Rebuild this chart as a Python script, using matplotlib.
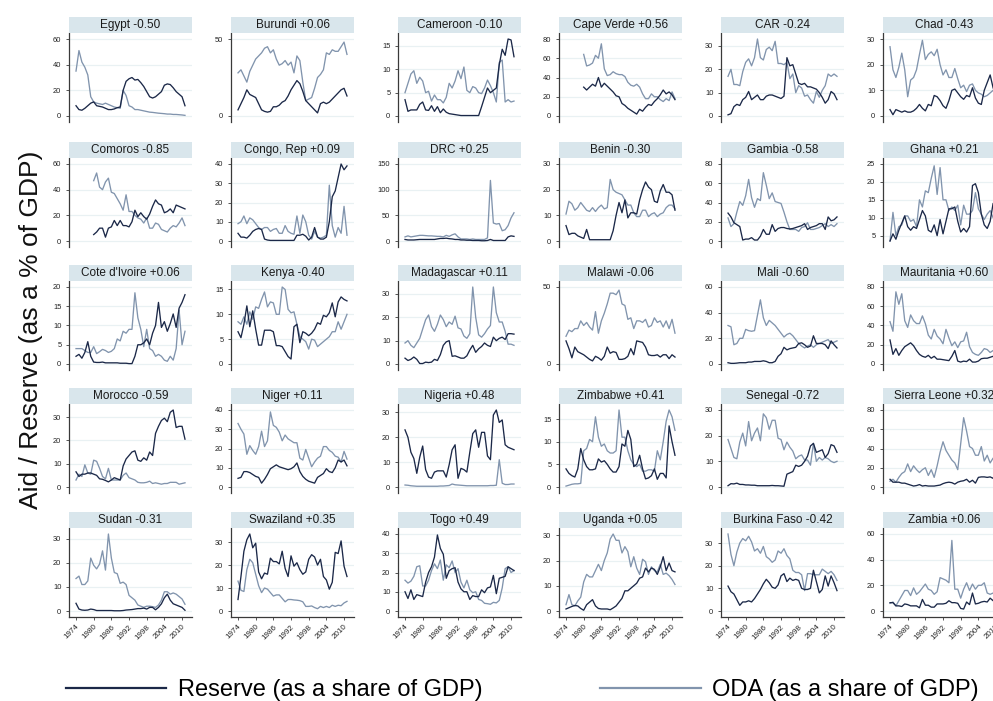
import numpy as np
import matplotlib
matplotlib.use("Agg")
import matplotlib.pyplot as plt
from matplotlib.patches import Rectangle
from matplotlib.lines import Line2D

plt.rcParams['font.family'] = ['Liberation Sans', 'DejaVu Sans']

years = list(range(1974, 2012))
N = np.nan

egypt_reserve = [8,5,4.5,6,8,10,11,8,7.5,7, 6,5,5,5.5,6.5,7,20,27,29,30, 28,28.5,26,23,19,15,14,15,17,19, 24,25,24.5,22,19,17,15,8]
egypt_oda = [35,51,42,38,32,15,11,10,9.5,9, 10,9,8,7,6.5,6,20,16,8,7, 5,5,4.5,4,3.5,3,2.8,2.5,2.2,2, 1.8,1.5,1.5,1.2,1.2,1,0.8,0.5]
burundi_reserve = [4,8,12,17,14,13,12,8,4,3, 2.5,3,6,6,7,9,10,13,17,20, 23,21,16,10,8,6,4,2,8,9, 8,9,11,13,15,17,18,13]
burundi_oda = [28,30,26,22,29,33,37,39,41,44, 45,41,43,37,33,34,36,33,35,28, 39,36,22,10,11,12,18,25,27,30, 41,40,43,42,42,45,48,40]
cameroon_reserve = [3.5,1,1.3,1.3,1.3,2.5,3,1.3,1.2,2.2, 1,2,0.7,1.5,0.8,0.5,0.4,0.3,0.2,0.1, 0.1,0.1,0.1,0.1,0.1,0.1,2,4,6,5, 5.5,6,11,14.3,13,16.5,16.3,12.7]
cameroon_oda = [5,7,9,9.7,7,8.3,7.5,5,5.3,3.2, 4.5,3.5,3.5,2.8,4,7,6,7.5,9.7,8, 10.5,5.5,5,6.3,6,5,4.8,6,7.7,6.5, 5,3,11.5,12,3,3.5,3,3.2]
capeverde_reserve = [N,N,N,N,N,N, 30,27,30,33,31,40,30,34,31,28, 25,21,20,13,11,8,6,4,2,7, 5,9,12,11,15,18,22,27,23,25, 22,17]
capeverde_oda = [N,N,N,N,N,N, 64,52,53,55,63,60,75,49,42,43, 46,44,43,43,41,35,32,31,33,30, 23,18,18,23,20,20,17,15,18,16, 25,18]
car_reserve = [0.5,1,4,5,4.5,7,8,10.5,7,8, 9,7,7,8.5,9,9,8.5,8,7.5,8.5, 25,21.5,22,18,14,13.5,14,12.5,12.5,12, 11.5,10,8,5.5,7,10.5,9.5,7]
car_oda = [17,20,13.5,13.5,13,19,23,24.5,21.5,25, 33,25,24,28.5,29.5,28,32,22.5,22.5,22, 23,16,18,10,13,12,8.5,9,7,5.5, 10.5,8,11,13,18,17,18,17]
chad_reserve = [2.5,0.5,2.5,2,1.5,2,1.5,1.5,2,3, 4.5,3,2,4.5,4,8,7.5,6,4,3, 6,10,10.5,9,7.5,6.5,8,7.5,11,7, 5,4.5,10,13,16,11,8,9]
chad_oda = [27,18,15,19,24.5,18,7.5,14,15,18, 24,29.5,22,24,25,23.5,26,20,16,18, 15,15,18.5,14.5,11,12,9.5,12,12.5,10, 9,8.5,7.5,8,9,10,9,10]
comoros_reserve = [N,N,N,N,N,N, 5,7,10,10,3,10,11,16,12,16, 12,12,11,15,24,19,22,19,17,21, 27,32,29,28,22,23,25,22,28,27, 26,25]
comoros_oda = [N,N,N,N,N,N, 47,53,42,40,46,49,38,37,33,29, 24,36,23,23,20,18,17,14,18,10, 10,14,13,9,8,7,10,12,11,14, 18,12]
congo_reserve = [4,2,2,1.5,3,5,6,6.5,6,1, 0.5,0.3,0.3,0.3,0.3,0.3,0.3,0.3,0.3,0.3, 3,3,3.5,2.5,0.5,2,7,2,1,1, 2,10,23,26,33,40,37,39]
congo_oda = [9,10,13,9,12,11,9,7,6,7, 7,5,6,6.5,4,4,8,5,4,3.5, 13,4,13.5,10,3,1,5,2,1.5,2, 3,29,8,2,7,4,18,3]
drc_reserve = [3,2,2,2,2.5,3,3,3,3,3, 3,4,5,5,5.5,4.5,4,3,3,2, 2,1.5,1.5,1,1,1,0.5,0.5,1,3, 1,1,1,1,1,8,10,9]
drc_oda = [8,10,8,9,10,11,11,10.5,10,10, 9.5,9,9,8,11,9,12,14,8,4, 4,4,3,4,3,3,3,3,6,118, 35,33,34,20,22,30,45,55]
benin_reserve = [6,2.5,3,3,2,1.5,1,4.5,0.5,0.5, 0.5,0.5,0.5,0.5,0.5,0.5,4,10,15,11, 16,9,11,11,10.5,16,20,23,21,20, 15.5,15,19.5,22,19,19,18,12]
benin_oda = [10.5,15.5,14.5,12,13,15,13.5,12,11.5,13, 11.5,13,14,12.5,13,24,20,19,18.5,18, 16,14,14,11,9.5,9.5,12,12,9.5,10.5, 11,9.5,10.5,11,13,14,14,12.5]
gambia_reserve = [29,25,19,17,15,1,2,2,3.5,1, 1,5,12,7,7,17,10,13,14,14, 13,12.5,13,14,15,16,18,12,14,15, 16,18,18,12,25,21,22,25]
gambia_oda = [24,15,18,30,41,37,47,64,45,35, 44,42,71,58,44,50,41,40,39,30, 20,12,12,12,10,14,15,19,12,12, 13,14,16,18,15,17,15,18]
ghana_reserve = [3.5,5.5,4,6.5,8.5,10.5,7.5,6.5,7.5,7, 9.5,12,10.5,6.5,6,8,5,9.5,5.5,9, 12.5,12.5,13,9,6,7,6,7.5,19,19.5, 17,11,8,7,9,14,11,13]
ghana_oda = [3.5,11.5,5,7.5,8,10.5,10.5,9,9.5,7.5, 15,13,17.5,17,21,24.5,16.5,24,15,15, 12,13,12,13.5,8,13.5,11,11,12,17, 12.5,11,9.5,11,12,10,9,11]
cotedivoire_reserve = [2,2.5,1.5,3,5.8,2,0.5,0.4,0.4,0.5, 0.3,0.3,0.3,0.3,0.3,0.2,0.2,0.2,0.1,0.1, 2,5,5,5.5,6.5,5,8,10,16,9.5, 11,8.5,10.5,13,9.5,14.5,16,18]
cotedivoire_oda = [4,4,4,3.5,3,3,4.5,2.7,3.2,3.8, 3.5,3,3.3,4,6.5,6,8.5,8,9,9, 18.5,12,9,4.5,9,4,3.5,2,2.5,2, 1,0.7,2,1,4,14,5,8.5]
kenya_reserve = [6.5,5.3,8,11.7,7.5,10.7,7,3.8,3.8,6.8, 6.8,6.8,6.5,3.7,3.7,3.5,2.5,1.5,1,7.5, 8,4.3,6.5,6.2,5.7,6.2,7,8.3,8,9.8, 9.5,10.3,12.3,9.5,12.5,13.5,13,12.7]
kenya_oda = [8.5,8,9.5,8,10.5,9,11.5,11.2,13,14.5, 11.5,12.5,12.3,10,10,15.5,15,11,10.3,10.5, 8,5.5,5,4.5,3,5,4.8,3.5,4,4.5, 5,5.5,6.5,6.5,8.5,7,8.5,10]
madagascar_reserve = [2.5,1.5,2,3,2,0.2,0.2,0.8,0.6,0.8, 2,1.5,4,8,9.5,10,3.3,3.5,3,2.5, 2.5,3.5,6,8,5,6.5,7.5,9,8,7.5, 11.5,10,11,11.5,10.5,13,13,12.8]
madagascar_oda = [9,10,8,7,9,11,15,19,21,16, 14,17,21,19,16,18,17,20.5,15.5,15, 12,11,13,33,20,12.5,11.5,13,15,16.5, 33,22,18,18,14,8.5,8.5,8]
malawi_reserve = [15,10,4,11,8,7,6,4.5,3,2, 5,4,2.5,5,11,7,8,7.5,3,3, 3.5,5,10,6,15,14.5,14,11,6,5.5, 5.5,6,4.5,6,6,3.5,6,4.5]
malawi_oda = [18,22,21,23,23,28,25,27,24,22, 34,20,28,33,39,46,46,45,48,39, 38,29,30,23,28,28,27,29,24,25, 30,27,28,24,28,23,29,20]
mali_reserve = [1,0.5,0.5,0.7,1,1,1,1.5,1.5,2, 2,2,2.5,2,1,1,2,6,8,13, 11,12,12.5,13,16,16.5,15,13,14,22, 16,16,16,15,12,18,15,12.5]
mali_oda = [30,29,15,16,20,20,27,26,25.5,26, 38,50,36,30,34,32,30,27,24,21, 23,24,22,19,16,14,12.5,14,15,13, 15,16,17,18,19,16,17,18]
mauritania_reserve = [25,10,16,9,14,18,20,22,19,14, 10,8,7,9,6,8,5,5,4.5,4, 3.5,8,14,3,2,3,2.5,5,2,2, 3,5.5,6,6,7,8,7,8]
mauritania_oda = [44,34,75,62,73,45,38,51,45,42, 42,50,42,30,26,36,29,26,21,36, 27,19,23,17,23,24,33,18,12,10, 9,12,16,15,12,14,15,13]
morocco_reserve = [6.5,4.5,5.5,5.5,6,6,5.5,5,3.5,3.3, 2.8,2.2,3,4,3.5,3,9,12,13.5,15, 15.5,11.5,11,12.5,11.5,15,13.5,23,26,28.5, 29.5,28,32,33,25.5,26,26,20.5]
morocco_oda = [3,5.5,4.5,9.5,6,5.5,11.5,11,8,4.5, 3.5,8,3,3,3,3,5,6,4,3.5, 3,2,1.8,1.8,2,2.5,1.5,1.8,1.5,1.2, 1.5,1.5,2,2,2,1.2,1.5,1.8]
niger_reserve = [4.5,5,8,8,7.5,6.5,5.5,5,2,4, 6.5,9.5,10.5,11.5,10.5,10,9.5,9,9.5,10.5, 12.5,8,5.5,4,3,2.5,2,5,6,7, 9.5,8,7.5,10,14,13,14,11]
niger_oda = [33,30,27.5,17,21.5,19,17,21,29,21, 24,39,32,31,28.5,24,27,25,24,23, 23,15,14,19.5,15,10.5,13,15,16,21, 21,19,18,16,15.5,13,18.5,14.5]
nigeria_reserve = [23,20,14,11.5,5.5,12,16.5,7,4,3.5, 6,6.5,6.5,6.5,4,9,15,17,3.5,7.5, 7,6,14,21.5,23,16,22,22,12.5,11, 29,31,26,27,17,16,15.5,15]
nigeria_oda = [0.8,0.7,0.5,0.4,0.3,0.3,0.3,0.3,0.3,0.3, 0.3,0.3,0.4,0.4,0.5,0.6,1.2,0.9,0.8,0.7, 0.6,0.5,0.5,0.5,0.5,0.5,0.5,0.5,0.5,0.6, 0.6,0.7,11,1.5,1,1,1.2,1.2]
zimbabwe_reserve = [4,3,2.5,2.2,4,8.5,6,4.5,3.8,3.8, 4,6.2,5.5,5.8,5,4,3.3,3.3,4.5,9.5, 9,12.5,10.5,4.5,5,7,4,1.8,2,2.5, 4,1.7,3,3,2,13.5,10,7]
zimbabwe_oda = [0.2,0.4,0.6,0.7,0.7,0.8,8,8.5,10.5,10, 15.5,11,9,9.5,8,7.5,7.5,8,17,11, 11,8,6,5,4.5,5,3.5,3.5,3.8,3.8, 3.5,8,6,10,14.5,17,15.5,12.5]
senegal_reserve = [0.5,1.3,1.2,1.5,1,1,0.8,0.8,0.7,0.7, 0.5,0.5,0.5,0.5,0.5,0.6,0.5,0.5,0.4,0.3, 5,5.5,6,8.5,8,8.5,10,12,16,17, 13.5,14,14.5,11.5,13,16.5,16,13.5]
senegal_oda = [18.5,15,11.5,11,17.5,21,16,25.5,18,21, 23,18,28.5,27,22.5,26,26,19,18.5,14.5, 17.5,15.5,14,11,12,12.5,10.5,10.5,8.5,17, 10,11.5,10.5,11.5,11,10,9.5,10]
sierraleone_reserve = [8,5,5,5,4,4,3,2,1,1.5, 2.5,1,1.5,1,1,1,1.5,2,3.5,4.5, 5,4.5,3,5,6,6.5,8,5,7,4, 10,10.5,10.5,10,10.5,9,16,12]
sierraleone_oda = [6,8,5,10,14,16,24,16,22,18, 15,18,20,12,18,10,22,36,47,38, 33,28,25,18,45,72,58,42,40,33, 33,42,27,33,25,30,26,29]
sudan_reserve = [3.2,0.8,0.4,0.3,0.4,0.8,0.6,0.2,0.2,0.2, 0.2,0.2,0.2,0.1,0.1,0.1,0.2,0.4,0.5,0.6, 0.8,1,1,1.2,0.8,1.5,1.5,0.5,1.5,3, 5.5,7,4.5,3,2.5,2,1.5,0.3]
sudan_oda = [13.5,14.5,11,11,12.5,22,19,17.5,19.5,25, 17,32,22,16,15.5,11.5,12,11,6.5,5.5, 4.5,2.5,2,1.5,2,2,1.8,1.5,2.5,4.5, 8,8,7,7.5,7,6,5,2.8]
swaziland_reserve = [5,15,26,31,33.5,27.5,29.5,17,14,16.5, 16,23,21.5,21.5,20.5,26,18.5,15,24,19.5, 21,18,16,17,22.5,24.5,23.5,20,22.5,15, 13.5,9.5,12.5,25.5,25,30.5,19.5,15]
swaziland_oda = [13,9,8.5,18,22.5,21,16,11,8,10, 9.5,8,6.5,7,7,5.5,4,5,5,4.8, 4.7,4.5,4,2,2,2.2,1.5,1,2,1.5, 2,1.5,2.5,2,2.5,2.3,3.5,4.2]
togo_reserve = [10,6.5,11,6,8.5,8,7.5,15,20,23, 28,39.5,32.5,29.5,17,21,22,22.5,15,11.5, 10,10,6,8,7.5,7.5,11,9.5,12,12.5, 18.5,9,17,17.5,18,23,22,21]
togo_oda = [16,14.5,15.5,18,23,23.5,13,13,16,21, 24.5,22,26.5,16,24,22.5,26,20,22,15, 12,16,11,9.5,10,6,5.5,4,3.8,3.5, 4.5,4.2,5.5,12,22,23,20,21]
uganda_reserve = [0.8,1.3,1.8,2.2,2,1,0.3,2.5,3.5,4.5, 2,1,0.8,0.8,0.8,0.5,1.2,2,3.5,5, 8,8,9,10,11,13,13.5,17,15.5,17, 16.5,14.5,17.5,21.5,16,19,16,15.5]
uganda_oda = [2.5,6.5,2.5,2,4,5.5,11.5,14.5,13.5,13.5, 16,18.5,16,20,23,28.5,30.5,28,28,23, 25.5,23.5,17.5,21.5,17,14.5,20.5,19.5,14.5,17.5, 16,15.5,18.5,14.5,15,14,12.5,10.5]
burkina_reserve = [11,8.5,7.5,5,2.5,4,4,4.5,4,5.5, 7.5,9.5,12,14,12.5,10.5,10,11.5,15.5,16.5, 13,14.5,13.5,14,13.5,10,9.5,9.5,10,18, 13,8,9.5,15.5,11,15.5,12.5,9]
burkina_oda = [34,25,20,26,30,32,31,33,30.5,26.5, 27.5,25.5,28.5,24,23,21.5,22.5,26.5,25.5,27.5, 24.5,23,18,17,17,16,9,16.5,16.5,16, 16,16,18.5,17.5,16.5,17.5,16,13.5]
zambia_reserve = [6.5,6.5,4,4,3.5,5.5,5,4,4,4, 2.5,9,4.5,4.5,3,3,5.5,5.5,5.5,6, 8,6.5,6.5,6,2,1.5,7,5,14,5.5, 6,7,7.5,7,10,8,14,14]
zambia_oda = [6,7,4,8,12,16,16,12,18,13, 15,18,21,17,16,13,15,26,25,24, 22,55,17,17,10,17,22,16,21,17, 20,20,22,14,13,14,12,12]

titles = ["Egypt -0.50", "Burundi +0.06", "Cameroon -0.10", "Cape Verde +0.56", "CAR -0.24", "Chad -0.43",
          "Comoros -0.85", "Congo, Rep +0.09", "DRC +0.25", "Benin -0.30", "Gambia -0.58", "Ghana +0.21",
          "Cote d'Ivoire +0.06", "Kenya -0.40", "Madagascar +0.11", "Malawi -0.06", "Mali -0.60", "Mauritania +0.60",
          "Morocco -0.59", "Niger +0.11", "Nigeria +0.48", "Zimbabwe +0.41", "Senegal -0.72", "Sierra Leone +0.32",
          "Sudan -0.31", "Swaziland +0.35", "Togo +0.49", "Uganda +0.05", "Burkina Faso -0.42", "Zambia +0.06"]

reserve_series = [egypt_reserve, burundi_reserve, cameroon_reserve, capeverde_reserve, car_reserve, chad_reserve,
                  comoros_reserve, congo_reserve, drc_reserve, benin_reserve, gambia_reserve, ghana_reserve,
                  cotedivoire_reserve, kenya_reserve, madagascar_reserve, malawi_reserve, mali_reserve, mauritania_reserve,
                  morocco_reserve, niger_reserve, nigeria_reserve, zimbabwe_reserve, senegal_reserve, sierraleone_reserve,
                  sudan_reserve, swaziland_reserve, togo_reserve, uganda_reserve, burkina_reserve, zambia_reserve]
oda_series = [egypt_oda, burundi_oda, cameroon_oda, capeverde_oda, car_oda, chad_oda,
              comoros_oda, congo_oda, drc_oda, benin_oda, gambia_oda, ghana_oda,
              cotedivoire_oda, kenya_oda, madagascar_oda, malawi_oda, mali_oda, mauritania_oda,
              morocco_oda, niger_oda, nigeria_oda, zimbabwe_oda, senegal_oda, sierraleone_oda,
              sudan_oda, swaziland_oda, togo_oda, uganda_oda, burkina_oda, zambia_oda]

yticks = [[0,20,40,60], [0,50], [0,5,10,15], [0,20,40,60,80], [0,10,20,30], [0,10,20,30],
          [0,20,40,60], [0,10,20,30,40], [0,50,100,150], [0,10,20,30], [0,20,40,60,80], [5,10,15,20,25],
          [0,5,10,15,20], [0,5,10,15], [0,10,20,30], [0,50], [0,20,40,60], [0,20,40,60,80],
          [0,10,20,30], [0,10,20,30,40], [0,10,20,30], [0,5,10,15], [0,10,20,30], [0,20,40,60,80],
          [0,10,20,30], [0,10,20,30], [0,10,20,30,40], [0,10,20,30], [0,10,20,30], [0,20,40,60]]

xticks = [1974, 1980, 1986, 1992, 1998, 2004, 2010]

DARK = "#1b2848"
LIGHT = "#8194ad"
BOX = "#d9e6ec"
GRID = "#e9f1f3"
AXC = "#3a3a3a"

W, H = 993, 701
fig = plt.figure(figsize=(W / 100, H / 100), dpi=100)

col_left = [69, 231, 398, 559, 721, 883]
row_top = [33, 158, 281, 404, 528]
pw, ph = 123, 89
tb = 16

for i, title in enumerate(titles):
    r, c = divmod(i, 6)
    ax = fig.add_axes([col_left[c] / W, 1 - (row_top[r] + ph) / H, pw / W, ph / H])
    res = np.array(reserve_series[i], dtype=float)
    oda = np.array(oda_series[i], dtype=float)
    ax.plot(years, oda, color=LIGHT, lw=0.95, zorder=3)
    ax.plot(years, res, color=DARK, lw=0.95, zorder=4)
    tk = yticks[i]
    lo = min(np.nanmin(res), np.nanmin(oda), tk[0])
    hi = max(np.nanmax(res), np.nanmax(oda), tk[-1])
    pad = (hi - lo) * 6 / 77
    ax.set_ylim(lo - pad, hi + pad)
    ax.set_xlim(1974 - 2.38, 2011 + 2.38)
    ax.set_yticks(tk)
    ax.set_yticklabels([str(t) for t in tk])
    ax.yaxis.grid(True, color=GRID, lw=0.9, zorder=0)
    ax.set_axisbelow(True)
    for s in ['top', 'right']:
        ax.spines[s].set_visible(False)
    ax.spines['left'].set_color(AXC)
    ax.spines['left'].set_linewidth(0.9)
    ax.tick_params(axis='y', length=2.5, width=0.6, color=AXC, labelsize=5.4, pad=3, labelcolor="#222222")
    if r == 4:
        ax.spines['bottom'].set_color(AXC)
        ax.spines['bottom'].set_linewidth(0.9)
        ax.set_xticks(xticks)
        ax.set_xticklabels([str(x) for x in xticks], rotation=45, ha='right', rotation_mode='anchor')
        ax.tick_params(axis='x', length=2.5, width=0.6, color=AXC, labelsize=5.8, pad=2, labelcolor="#222222")
    else:
        ax.spines['bottom'].set_visible(False)
        ax.set_xticks([])
    ax.add_patch(Rectangle((0, 1), 1, tb / ph, transform=ax.transAxes, clip_on=False,
                           facecolor=BOX, edgecolor='none', zorder=5))
    ax.text(0.5, 1 + tb / 2 / ph, title, transform=ax.transAxes, ha='center', va='center',
            fontsize=8.5, color="#1a1a1a", zorder=6)

fig.text(0.031, 0.529, "Aid / Reserve (as a % of GDP)", rotation=90, ha='center', va='center',
         fontsize=19, color="#111111")

handles = [Line2D([], [], color=DARK, lw=1.6), Line2D([], [], color=LIGHT, lw=1.6)]
fig.legend(handles, ["Reserve (as a share of GDP)", "ODA (as a share of GDP)"], loc='center',
           bbox_to_anchor=(0.526, 0.016), ncol=2, frameon=False, fontsize=17,
           handlelength=4.25, handletextpad=0.5, columnspacing=5.0, borderpad=0, borderaxespad=0)

fig.savefig("out.png", dpi=100)
